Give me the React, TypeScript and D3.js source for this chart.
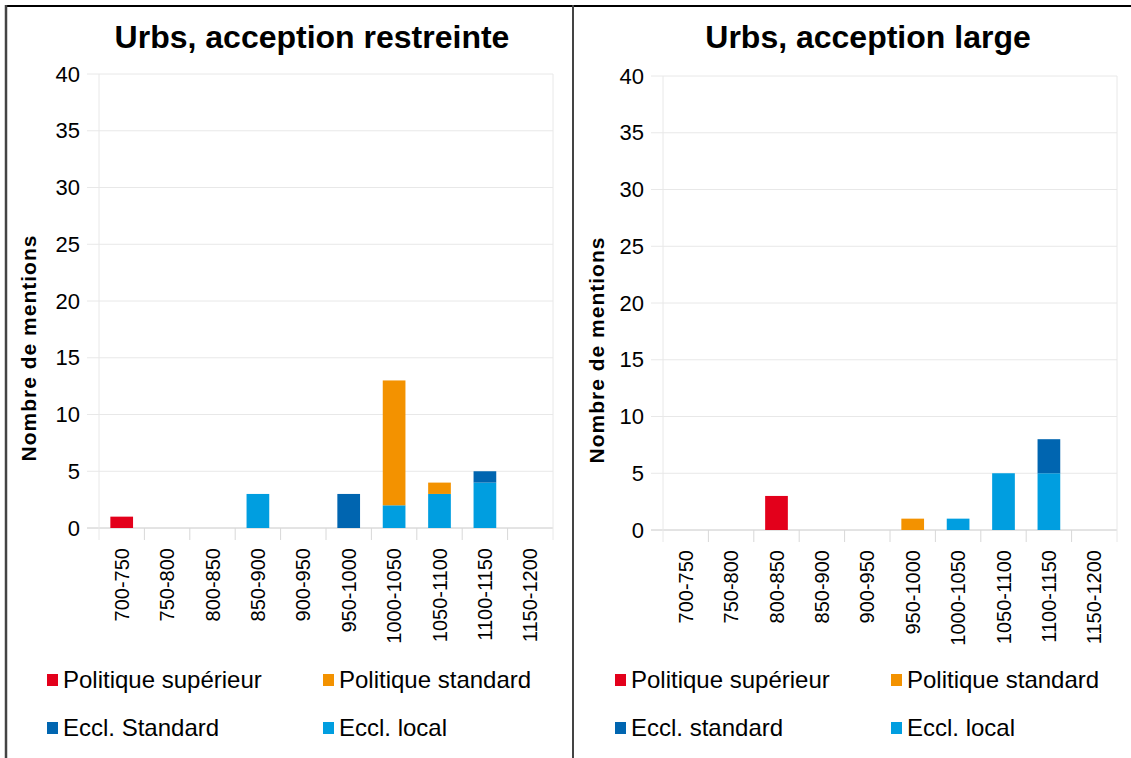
import * as d3 from 'd3';
import React from 'react';

// periods on the x axis
const periods = [
  '700-750', '750-800', '800-850', '850-900', '900-950',
  '950-1000', '1000-1050', '1050-1100', '1100-1150', '1150-1200',
];

const yTicks = [0, 5, 10, 15, 20, 25, 30, 35, 40];

// left chart: acception restreinte
const restrEcclLocal = [0, 0, 0, 3, 0, 0, 2, 3, 4, 0];
const restrEcclStandard = [0, 0, 0, 0, 0, 3, 0, 0, 1, 0];
const restrPolStandard = [0, 0, 0, 0, 0, 0, 11, 1, 0, 0];
const restrPolSup = [1, 0, 0, 0, 0, 0, 0, 0, 0, 0];

// right chart: acception large
const largeEcclLocal = [0, 0, 0, 0, 0, 0, 1, 5, 5, 0];
const largeEcclStandard = [0, 0, 0, 0, 0, 0, 0, 0, 3, 0];
const largePolStandard = [0, 0, 0, 0, 0, 1, 0, 0, 0, 0];
const largePolSup = [0, 0, 3, 0, 0, 0, 0, 0, 0, 0];

const keys = ['ecclLocal', 'ecclStandard', 'polStandard', 'polSup'];
const colors: Record<string, string> = {
  polSup: '#e3001b',
  polStandard: '#f39200',
  ecclStandard: '#0065b0',
  ecclLocal: '#009ee0',
};

const FONT = '"Liberation Sans", Arial, sans-serif';

type Panel = {
  title: string;
  titleX: number;
  legend: string[]; // polSup, polStandard, ecclStandard, ecclLocal
  series: number[][]; // in keys order
  x0: number;
  labelY: number;
  plot: { left: number; right: number; top: number; bottom: number };
};

const panels: Panel[] = [
  {
    title: 'Urbs, acception restreinte',
    titleX: 312,
    legend: ['Politique supérieur', 'Politique standard', 'Eccl. Standard', 'Eccl. local'],
    series: [restrEcclLocal, restrEcclStandard, restrPolStandard, restrPolSup],
    x0: 0,
    labelY: 348,
    plot: { left: 99, right: 553, top: 74, bottom: 528 },
  },
  {
    title: 'Urbs, acception large',
    titleX: 300,
    legend: ['Politique supérieur', 'Politique standard', 'Eccl. standard', 'Eccl. local'],
    series: [largeEcclLocal, largeEcclStandard, largePolStandard, largePolSup],
    x0: 568,
    labelY: 350,
    plot: { left: 95, right: 549, top: 76, bottom: 530 },
  },
];

function Chart({ p }: { p: Panel }) {
  const { plot } = p;
  const x = d3.scaleBand<string>().domain(periods).range([plot.left, plot.right]).paddingInner(0).paddingOuter(0);
  const y = d3.scaleLinear().domain([0, 40]).range([plot.bottom, plot.top]);

  const rows = periods.map((per, i) => {
    const r: Record<string, any> = { period: per };
    keys.forEach((k, j) => (r[k] = p.series[j][i]));
    return r;
  });
  const stacked = d3.stack<Record<string, any>>().keys(keys)(rows);
  const barW = x.bandwidth() * 0.5;

  const legendItems = [
    { key: 'polSup', label: p.legend[0], lx: 47, ly: 674 },
    { key: 'polStandard', label: p.legend[1], lx: 323, ly: 674 },
    { key: 'ecclStandard', label: p.legend[2], lx: 47, ly: 722 },
    { key: 'ecclLocal', label: p.legend[3], lx: 323, ly: 722 },
  ];

  return (
    <g transform={`translate(${p.x0},0)`}>
      <text x={p.titleX} y={48} textAnchor="middle" fontFamily={FONT} fontWeight="bold" fontSize={32} fill="#000">
        {p.title}
      </text>

      {/* grid */}
      {yTicks.map(t => (
        <line key={t} x1={plot.left - 12} x2={plot.right} y1={y(t)} y2={y(t)} stroke={t === 0 ? '#c8c8c8' : '#e8e8e8'} strokeWidth={1} />
      ))}
      <line x1={plot.left} x2={plot.left} y1={plot.top} y2={plot.bottom + 12} stroke="#e8e8e8" />
      {periods.map((per, i) => (
        <line key={per} x1={x(per)! + x.bandwidth()} x2={x(per)! + x.bandwidth()} y1={i === periods.length - 1 ? plot.top : plot.bottom} y2={plot.bottom + 12} stroke={i === periods.length - 1 ? '#e8e8e8' : '#d8d8d8'} />
      ))}

      {/* y tick labels */}
      {yTicks.map(t => (
        <text key={t} x={plot.left - 19} y={y(t)} dy="0.35em" textAnchor="end" fontFamily={FONT} fontSize={22} fill="#000">
          {t}
        </text>
      ))}
      <text transform={`translate(36,${p.labelY}) rotate(-90)`} textAnchor="middle" fontFamily={FONT} fontWeight="bold" fontSize={21} letterSpacing={1} fill="#000">
        Nombre de mentions
      </text>

      {/* bars */}
      {stacked.map(s => (
        <g key={s.key} fill={colors[s.key]}>
          {s.map((d, i) =>
            d[1] - d[0] > 0 ? (
              <rect key={i} x={x(periods[i])! + (x.bandwidth() - barW) / 2} width={barW} y={y(d[1])} height={y(d[0]) - y(d[1])} />
            ) : null
          )}
        </g>
      ))}

      {/* x labels */}
      {periods.map(per => (
        <text key={per} transform={`translate(${x(per)! + x.bandwidth() / 2},${plot.bottom + 20}) rotate(-90)`} dy="0.35em" textAnchor="end" fontFamily={FONT} fontSize={20} fill="#000">
          {per}
        </text>
      ))}

      {/* legend */}
      {legendItems.map(l => (
        <g key={l.key}>
          <rect x={l.lx} y={l.ly} width={11} height={12} fill={colors[l.key]} />
          <text x={l.lx + 16} y={l.ly + 14} fontFamily={FONT} fontSize={24} fill="#000">
            {l.label}
          </text>
        </g>
      ))}
    </g>
  );
}

export default function App() {
  return (
    <svg width={1131} height={758} style={{ position: 'absolute', left: 0, top: 0, background: '#fff' }}>
      <rect x={0} y={0} width={1131} height={758} fill="#fff" />
      {panels.map(p => (
        <Chart key={p.title} p={p} />
      ))}
      <line x1={5} x2={1131} y1={6} y2={6} stroke="#000" strokeWidth={2} />
      <line x1={6} x2={6} y1={5} y2={758} stroke="#444" strokeWidth={2.5} />
      <line x1={573} x2={573} y1={5} y2={758} stroke="#444" strokeWidth={2} />
    </svg>
  );
}
